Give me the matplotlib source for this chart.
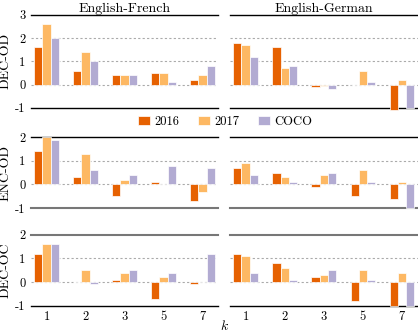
import matplotlib
matplotlib.use('Agg')
import matplotlib.pyplot as plt
import numpy as np

plt.rcParams['font.family'] = 'cmr10'
plt.rcParams['mathtext.fontset'] = 'cm'
plt.rcParams['axes.unicode_minus'] = False

k_values = ['1', '2', '3', '5', '7']
series_names = ['2016', '2017', 'COCO']
colors = ['#e66101', '#fdb863', '#b2abd2']
languages = ['English-French', 'English-German']
row_names = ['DEC-OD', 'ENC-OD', 'DEC-OC']

# English-French, one list per series (2016, 2017, COCO)
fr_dec_od_2016 = [1.6, 0.6, 0.4, 0.5, 0.2]
fr_dec_od_2017 = [2.6, 1.4, 0.4, 0.5, 0.4]
fr_dec_od_coco = [2.0, 1.0, 0.4, 0.1, 0.8]
fr_enc_od_2016 = [1.4, 0.3, -0.5, 0.1, -0.7]
fr_enc_od_2017 = [2.0, 1.3, 0.2, 0.0, -0.3]
fr_enc_od_coco = [1.9, 0.6, 0.4, 0.8, 0.7]
fr_dec_oc_2016 = [1.2, 0.0, 0.1, -0.7, -0.1]
fr_dec_oc_2017 = [1.6, 0.5, 0.4, 0.2, 0.0]
fr_dec_oc_coco = [1.6, -0.1, 0.5, 0.4, 1.2]

# English-German
de_dec_od_2016 = [1.8, 1.6, -0.1, 0.0, -1.1]
de_dec_od_2017 = [1.7, 0.7, -0.05, 0.6, 0.2]
de_dec_od_coco = [1.2, 0.8, -0.2, 0.1, -1.0]
de_enc_od_2016 = [0.7, 0.5, -0.1, -0.5, -0.6]
de_enc_od_2017 = [0.9, 0.3, 0.4, 0.6, 0.1]
de_enc_od_coco = [0.4, 0.1, 0.5, 0.1, -1.0]
de_dec_oc_2016 = [1.2, 0.8, 0.2, -0.8, -1.0]
de_dec_oc_2017 = [1.1, 0.6, 0.3, 0.5, 0.4]
de_dec_oc_coco = [0.4, 0.1, 0.5, 0.1, -1.0]

panels = [
    [[fr_dec_od_2016, fr_dec_od_2017, fr_dec_od_coco],
     [de_dec_od_2016, de_dec_od_2017, de_dec_od_coco]],
    [[fr_enc_od_2016, fr_enc_od_2017, fr_enc_od_coco],
     [de_enc_od_2016, de_enc_od_2017, de_enc_od_coco]],
    [[fr_dec_oc_2016, fr_dec_oc_2017, fr_dec_oc_coco],
     [de_dec_oc_2016, de_dec_oc_2017, de_dec_oc_coco]],
]
y_ranges = [(-1, 3), (-1, 2), (-1, 2)]

fig = plt.figure(figsize=(4.18, 3.34), dpi=100)

lefts = [0.074, 0.550]
widths = [0.448, 0.449]
bottoms = [0.677, 0.377, 0.085]
heights = [0.279, 0.212, 0.212]
# spine colours (top, bottom) per row, as in the original
spine_style = [(('black', 1.0), ('black', 1.0)),
               (('black', 1.0), ('#777777', 1.5)),
               (('#777777', 1.5), ('black', 1.0))]

x = np.arange(len(k_values))
bw = 0.21
handles = None

for r in range(3):
    lo, hi = y_ranges[r]
    for c in range(2):
        ax = fig.add_axes([lefts[c], bottoms[r], widths[c], heights[r]])
        bars = []
        for i in range(3):
            b = ax.bar(x + (i - 1) * bw, panels[r][c][i], bw, color=colors[i],
                       edgecolor='white', linewidth=0.5, clip_on=False, zorder=3,
                       label=series_names[i])
            bars.append(b)
        if handles is None:
            handles = bars
        for yy in range(lo + 1, hi):
            ax.axhline(yy, ls=(0, (2, 2)), color='#aaaaaa', lw=0.8, zorder=1)
        ax.set_xlim(-0.4, 4.4)
        ax.set_ylim(lo, hi)
        ax.set_yticks(range(lo, hi + 1))
        ax.set_xticks(x)
        ax.spines['left'].set_visible(False)
        ax.spines['right'].set_visible(False)
        (tc, tw), (bc, bwid) = spine_style[r]
        ax.spines['top'].set_color(tc)
        ax.spines['top'].set_linewidth(tw)
        ax.spines['bottom'].set_color(bc)
        ax.spines['bottom'].set_linewidth(bwid)
        ax.tick_params(length=0, labelsize=9, pad=4)
        if c == 0:
            ax.set_yticklabels([str(t) for t in range(lo, hi + 1)])
            ax.set_ylabel(row_names[r], fontsize=10)
            ax.yaxis.set_label_coords(-0.105, 0.5)
        else:
            ax.set_yticklabels([])
        if r == 2:
            ax.set_xticklabels(k_values)
        else:
            ax.set_xticklabels([])
        if r == 0:
            ax.set_title(languages[c], fontsize=10, pad=2)

fig.legend(handles, series_names, loc='center', bbox_to_anchor=(0.538, 0.635),
           ncol=3, frameon=False, fontsize=9, handlelength=1.0, handleheight=0.8,
           columnspacing=1.5, handletextpad=0.3, borderaxespad=0)
fig.text(0.538, 0.024, '$k$', ha='center', va='center', fontsize=10)

fig.savefig('out.png', dpi=100)
